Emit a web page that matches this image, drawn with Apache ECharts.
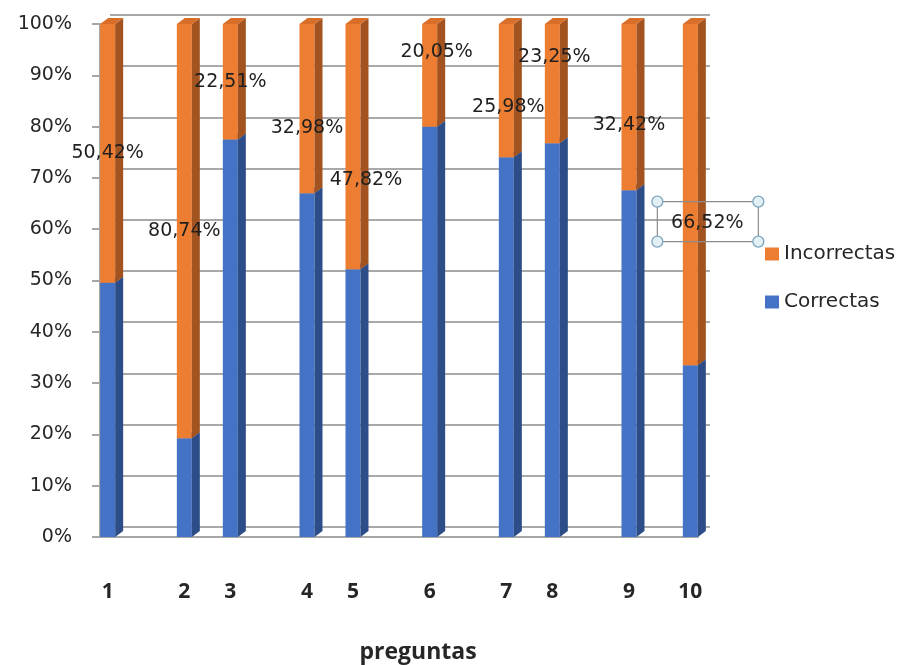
<!DOCTYPE html>
<html>
<head>
<meta charset="utf-8">
<script src="https://cdn.jsdelivr.net/npm/echarts@6/dist/echarts.min.js"></script>
<style>
html, body { margin: 0; padding: 0; background: #fff; }
#chart { width: 906px; height: 665px; }
</style>
</head>
<body>
<div id="chart"></div>
<script>
// 39 huecos en el eje, las preguntas no están repartidas de forma regular
var tickLabels = ['1', '', '', '', '', '2', '', '', '3', '', '', '', '', '4', '', '', '5', '', '', '', '',
	'6', '', '', '', '', '7', '', '', '8', '', '', '', '', '9', '', '', '', '10'];
var preguntas = ['1', '2', '3', '4', '5', '6', '7', '8', '9', '10'];
var correctas = [49.58, 19.26, 77.49, 67.02, 52.18, 79.95, 74.02, 76.75, 67.58, 33.48];
var incorrectas = [50.42, 80.74, 22.51, 32.98, 47.82, 20.05, 25.98, 23.25, 32.42, 66.52];
var yTicks = [0, 10, 20, 30, 40, 50, 60, 70, 80, 90, 100];

var chartDemo = {
	font: '"DejaVu Sans", sans-serif',
	boldFont: '"Open Sans", "DejaVu Sans", sans-serif',
	init: function() {
		var chart = echarts.init(document.getElementById('chart'));
		chart.setOption(this.option());
	},
	// barra 3D: cara frontal + lateral + tapa
	bar3d: function(front, side, top, withLabel) {
		var self = this;
		// desplazamiento de las etiquetas (movidas a mano en el original)
		var labelShift = [[0, 0], [0, 0], [0, 0], [0, 19], [13, 33], [7, -23], [2, 16], [2, -27], [0, 18], [17, 28]];
		return function(params, api) {
			var x = api.value(0), lo = api.value(1), hi = api.value(2);
			var pLo = api.coord([x, lo]);
			var pHi = api.coord([x, hi]);
			var w = 15, dx = 8, dy = 6;
			var left = pLo[0] - w / 2, right = left + w;
			var children = [{
				type: 'rect',
				shape: { x: left, y: pHi[1], width: w, height: pLo[1] - pHi[1] },
				style: { fill: front }
			}, {
				type: 'polygon',
				shape: { points: [[right, pHi[1]], [right + dx, pHi[1] - dy], [right + dx, pLo[1] - dy], [right, pLo[1]]] },
				style: { fill: side }
			}, {
				type: 'polygon',
				shape: { points: [[left, pHi[1]], [left + dx, pHi[1] - dy], [right + dx, pHi[1] - dy], [right, pHi[1]]] },
				style: { fill: top }
			}];
			if (withLabel) {
				var i = params.dataIndex;
				var cx = pLo[0] + labelShift[i][0];
				var cy = (pLo[1] + pHi[1]) / 2 + labelShift[i][1];
				children.push({
					type: 'text',
					x: cx, y: cy,
					style: {
						text: incorrectas[i].toFixed(2).replace('.', ',') + '%',
						fill: '#1f1f1f',
						font: '19px ' + self.font,
						align: 'center',
						verticalAlign: 'middle'
					}
				});
				if (i === preguntas.length - 1) {
					// recuadro de selección de la etiqueta
					var bx = cx - 50, by = cy - 21, bw = 101, bh = 40;
					children.push({
						type: 'rect',
						shape: { x: bx, y: by, width: bw, height: bh },
						style: { fill: null, stroke: '#8c8c8c', lineWidth: 1.2 }
					});
					[[bx, by], [bx + bw, by], [bx, by + bh], [bx + bw, by + bh]].forEach(function(p) {
						children.push({
							type: 'circle',
							shape: { cx: p[0], cy: p[1], r: 5.5 },
							style: { fill: '#e2f0f6', stroke: '#7fa5bf', lineWidth: 1.3 }
						});
					});
				}
			}
			return { type: 'group', children: children };
		};
	},
	option: function() {
		var self = this;
		var blueData = [], orangeData = [];
		preguntas.forEach(function(p, i) {
			var k = tickLabels.indexOf(p);
			blueData.push([k, 0, correctas[i]]);
			orangeData.push([k, correctas[i], 100]);
		});
		return {
			backgroundColor: '#ffffff',
			animation: false,
			textStyle: { fontFamily: self.font },
			title: {
				text: 'preguntas',
				left: 413,
				top: 636,
				textAlign: 'center',
				textStyle: { fontSize: 23, fontWeight: 'bold', color: '#262626', fontFamily: self.boldFont }
			},
			legend: {
				orient: 'vertical',
				left: 760,
				top: 239,
				itemWidth: 14,
				itemHeight: 13,
				itemGap: 28,
				icon: 'rect',
				data: ['Incorrectas', 'Correctas'],
				textStyle: { fontSize: 20, color: '#262626', fontFamily: self.font }
			},
			grid: [{
				// ejes y barras
				left: 100, right: 208, top: 24, bottom: 128
			}, {
				// pared del fondo
				left: 110, right: 196, top: 15, bottom: 138
			}],
			xAxis: [{
				type: 'category',
				gridIndex: 0,
				data: tickLabels,
				axisLine: { lineStyle: { color: '#a6a6a6', width: 2 } },
				axisTick: { show: false },
				axisLabel: {
					interval: 0,
					margin: 45,
					fontSize: 21,
					fontWeight: 'bold',
					fontFamily: self.boldFont,
					color: '#262626'
				}
			}, {
				type: 'value',
				gridIndex: 1,
				show: false
			}],
			yAxis: [{
				type: 'value',
				gridIndex: 0,
				min: yTicks[0],
				max: yTicks[yTicks.length - 1],
				interval: 10,
				axisLine: { show: true, lineStyle: { color: '#a6a6a6', width: 2 } },
				axisTick: { show: true, length: 8, lineStyle: { color: '#a6a6a6', width: 2 } },
				splitLine: { show: false },
				axisLabel: {
					margin: 28,
					fontSize: 19,
					color: '#262626',
					formatter: '{value}%'
				}
			}, {
				type: 'value',
				gridIndex: 1,
				min: 0,
				max: 100,
				interval: 10,
				axisLine: { show: false },
				axisTick: { show: false },
				axisLabel: { show: false },
				splitLine: { show: true, lineStyle: { color: '#a9a9a9', width: 2 } }
			}],
			series: [{
				name: 'Correctas',
				type: 'custom',
				xAxisIndex: 0,
				yAxisIndex: 0,
				itemStyle: { color: '#4472c4' },
				encode: { x: 0, y: [1, 2] },
				renderItem: self.bar3d('#4472c4', '#2c4d87', '#3a64b0', false),
				data: blueData,
				z: 3
			}, {
				name: 'Incorrectas',
				type: 'custom',
				xAxisIndex: 0,
				yAxisIndex: 0,
				itemStyle: { color: '#ed7d31' },
				encode: { x: 0, y: [1, 2] },
				renderItem: self.bar3d('#ed7d31', '#a3531f', '#d96e28', true),
				data: orangeData,
				z: 4
			}]
		};
	}
};
chartDemo.init();
</script>
</body>
</html>
